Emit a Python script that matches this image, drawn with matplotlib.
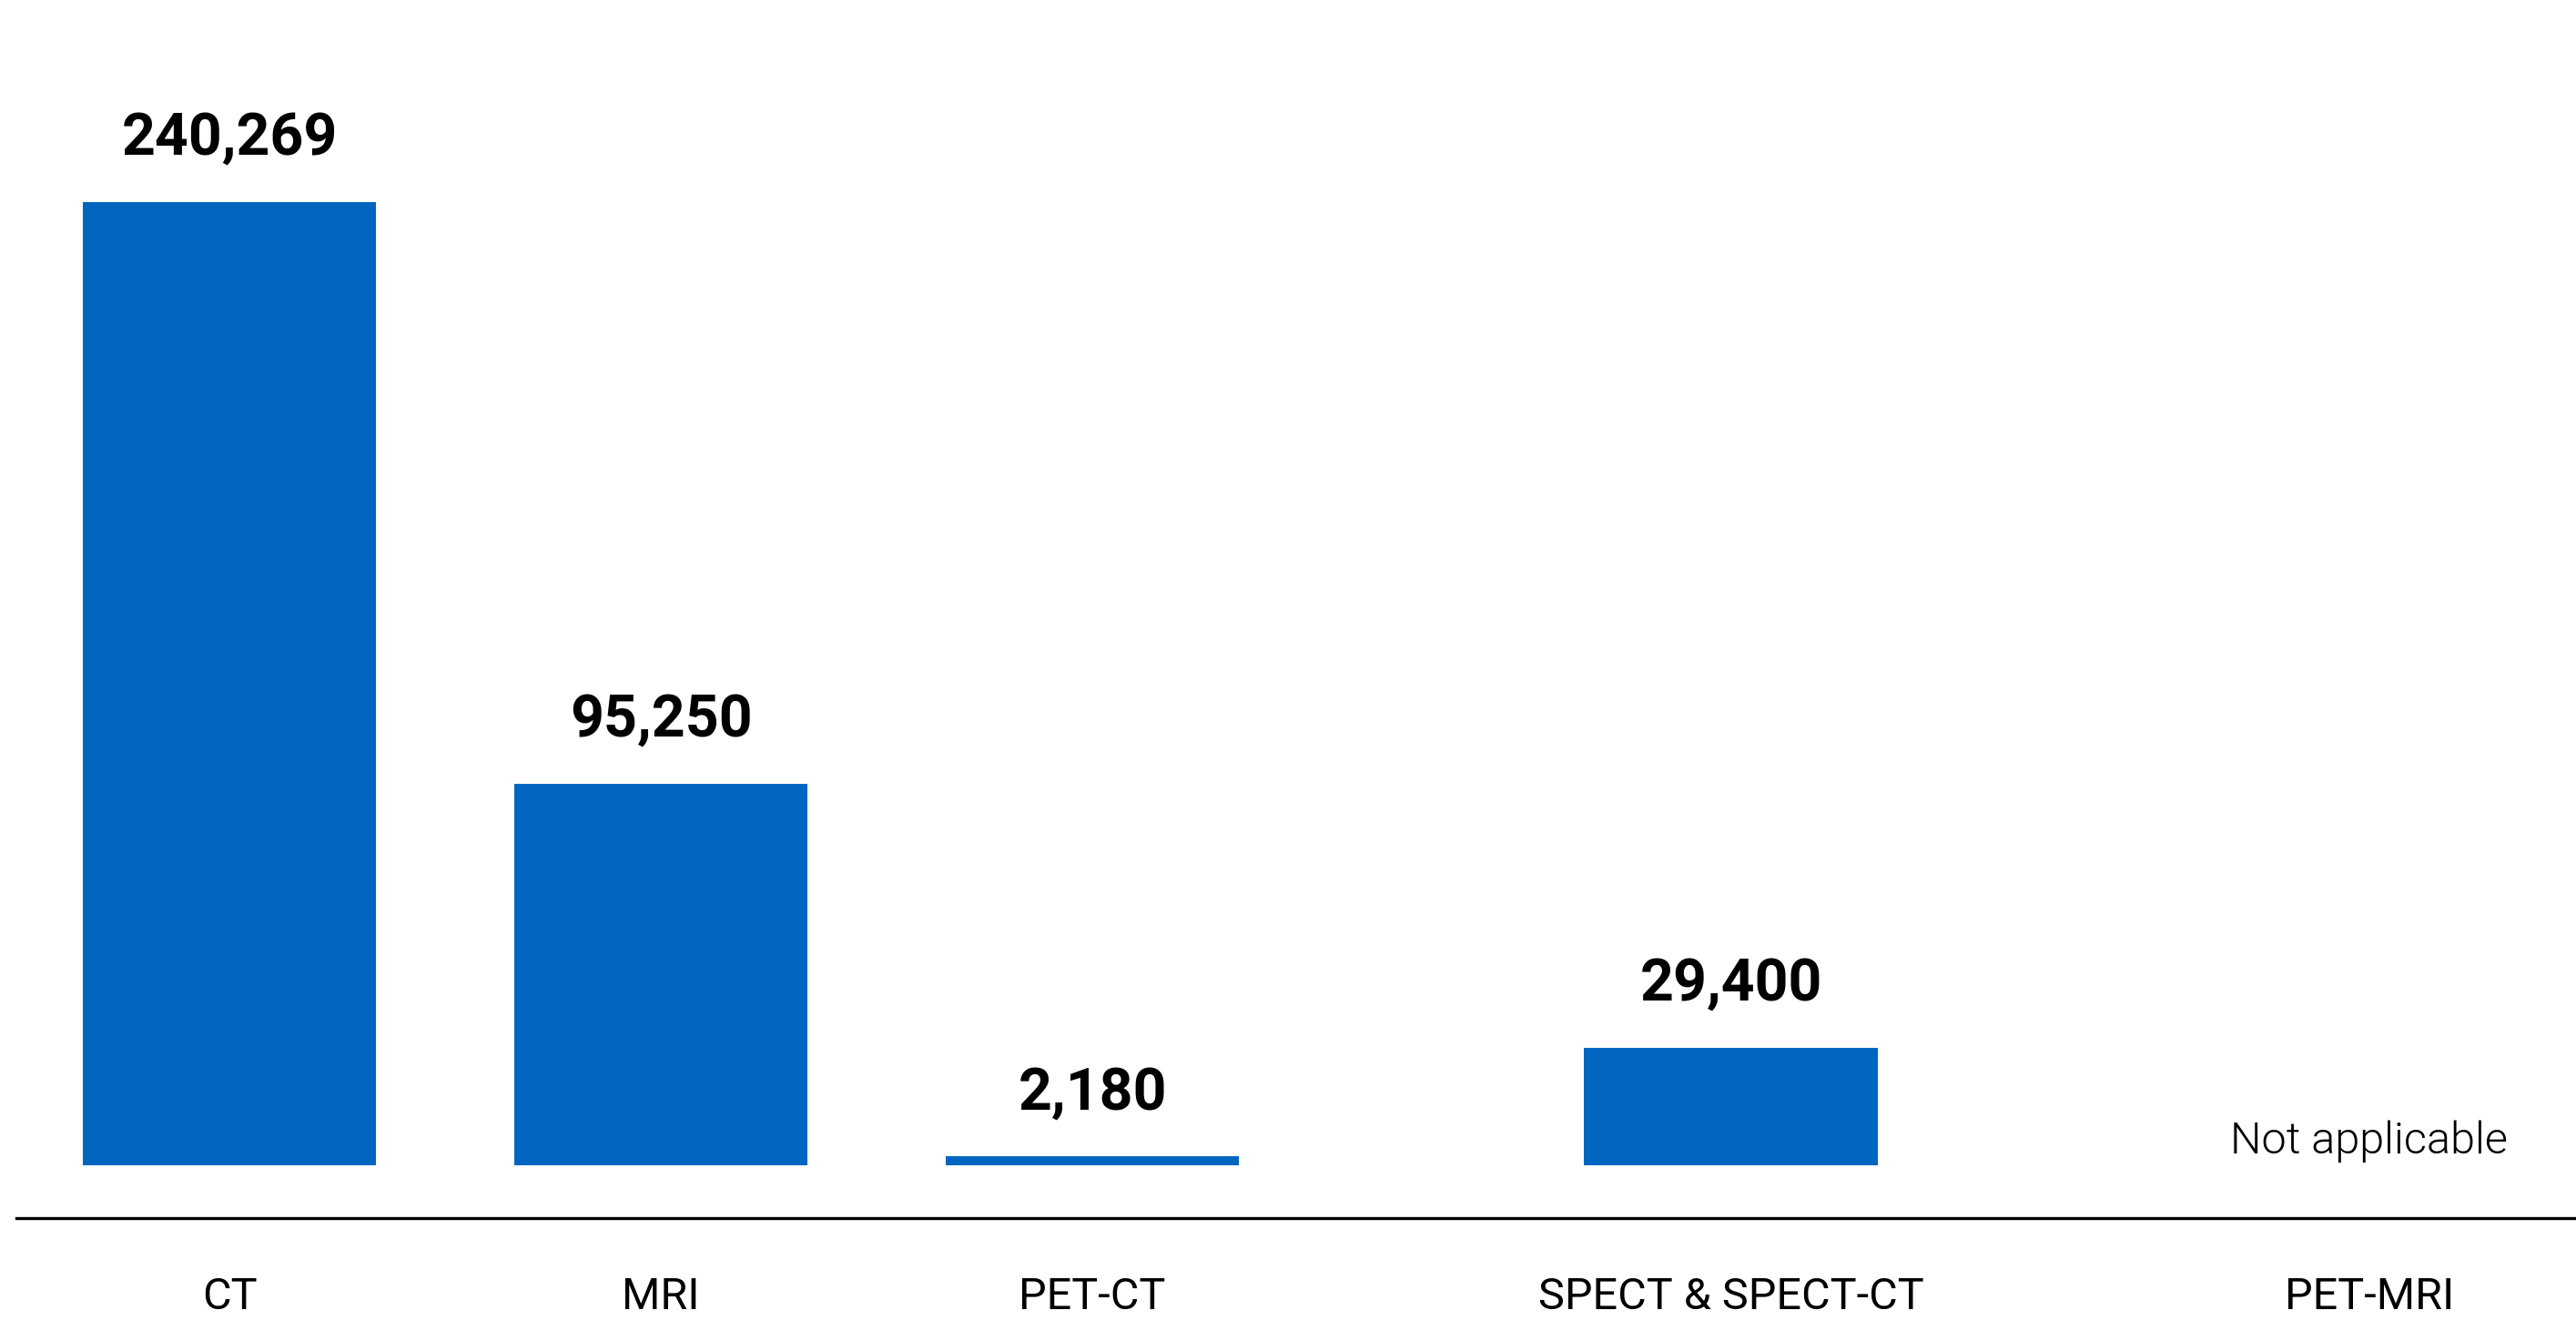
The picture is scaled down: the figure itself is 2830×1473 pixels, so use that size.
import numpy as np
import matplotlib.pyplot as plt

plt.rcParams['font.family'] = ['Roboto', 'DejaVu Sans']

categories = ["CT", "MRI", "PET-CT", "SPECT & SPECT-CT", "PET-MRI"]
units = [240269, 95250, 2180, 29400, None]
na_label = "Not applicable"

# slot positions (wider gap before SPECT)
positions = [0, 1, 2, 3.48, 4.96]
bar_color = "#0066BF"


def main():
    fig = plt.figure(figsize=(14.15, 7.365), dpi=200)
    ax = fig.add_axes([18 / 2830, 1 - 1338 / 1473, 1 - 18 / 2830, 1338 / 1473])

    top = max(v for v in units if v is not None)
    for x, v in zip(positions, units):
        if v is None:
            ax.annotate(na_label, (x, 0), xytext=(0, 4.7), textcoords="offset points",
                        ha="center", va="baseline", fontsize=17.5, fontweight=300)
            continue
        ax.bar(x, v, width=0.68, color=bar_color)
        ax.annotate(f"{v:,}", (x, v), xytext=(0, 18.8), textcoords="offset points",
                    ha="center", va="baseline", fontsize=23.2, fontweight="bold")

    ax.set_xlim(-0.494, 5.439)
    ax.set_ylim(-top * 0.0548, top * 1.21)
    ax.set_xticks(positions)
    ax.set_xticklabels(categories, fontsize=17.5)
    ax.tick_params(axis="x", length=0, pad=23)
    ax.set_yticks([])
    for s in ["top", "right", "left"]:
        ax.spines[s].set_visible(False)
    ax.spines["bottom"].set_linewidth(1.2)
    ax.spines["bottom"].set_color("black")

    fig.savefig("out.png", dpi=200)


if __name__ == "__main__":
    main()
